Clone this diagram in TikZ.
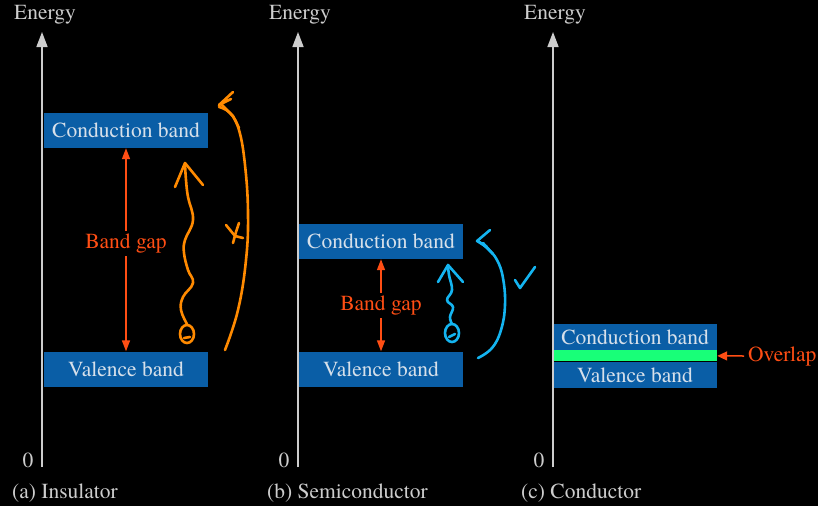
\documentclass[tikz,border=0pt]{standalone}
\usepackage{fontspec}
\setmainfont{texgyretermes}[Extension=.otf, UprightFont=*-regular, BoldFont=*-bold, ItalicFont=*-italic, BoldItalicFont=*-bolditalic]
\usetikzlibrary{positioning,arrows.meta}
\definecolor{bandblue}{RGB}{10,94,166}
\definecolor{bandtext}{RGB}{214,224,234}
\definecolor{axisgray}{RGB}{205,205,205}
\definecolor{gapred}{RGB}{255,78,20}
\definecolor{overlapgreen}{RGB}{24,255,120}
\definecolor{penorange}{RGB}{255,138,0}
\definecolor{pencyan}{RGB}{20,180,240}
\tikzstyle{band}=[rectangle, fill=bandblue, text=bandtext, minimum width=164pt, minimum height=35pt, inner sep=0pt]
\tikzstyle{thinband}=[band, minimum height=26pt]
\tikzstyle{axisline}=[draw=axisgray, line width=1.5pt, -{Triangle[width=11pt,length=15pt]}]
\tikzstyle{axistext}=[text=axisgray, inner sep=0pt]
\tikzstyle{gaparrow}=[draw=gapred, line width=1.5pt, {Triangle[width=8pt,length=11pt]}-{Triangle[width=8pt,length=11pt]}]
\tikzstyle{gaptext}=[text=gapred, fill=black, inner sep=3pt]
\tikzstyle{ink}=[line width=2.6pt, line cap=round, line join=round]

\begin{document}
\begin{tikzpicture}[x=1pt, y=-1pt, font=\fontsize{21.5}{25}\selectfont]
        \fill[black] (0,0) rectangle (818,506);
        \useasboundingbox (0,0) rectangle (818,506);

        % (a) Insulator
        \node (energy_a) [axistext] at (45,15) {Energy};
        \coordinate (axis_a0) at (42,467);
        \coordinate (axis_a1) at (42,32);
        \node (zero_a) [axistext] at (28,460) {0};
        \node (cb_a) [band] at (126,130.5) {Conduction band};
        \node (vb_a) [band] at (126,369) {Valence band};
        \node (cap_a) [axistext, anchor=west] at (12,493) {(a) Insulator};

        % (b) Semiconductor
        \node (energy_b) [axistext] at (300,15) {Energy};
        \coordinate (axis_b0) at (298,467);
        \coordinate (axis_b1) at (298,32);
        \node (zero_b) [axistext] at (284,460) {0};
        \node (cb_b) [band] at (381,241.5) {Conduction band};
        \node (vb_b) [band] at (381,369) {Valence band};
        \node (cap_b) [axistext, anchor=west] at (267,493) {(b) Semiconductor};

        % (c) Conductor
        \node (energy_c) [axistext] at (555,15) {Energy};
        \coordinate (axis_c0) at (553,467);
        \coordinate (axis_c1) at (553,32);
        \node (zero_c) [axistext] at (539,460) {0};
        \node (cb_c) [thinband] at (635,337) {Conduction band};
        \node (ovl_c) [rectangle, fill=overlapgreen, minimum width=164pt, minimum height=11pt, inner sep=0pt, below=0pt of cb_c] {};
        \node (vb_c) [thinband, below=0pt of ovl_c] {Valence band};
        \node (overlap) [gaptext, fill=none, inner sep=0pt, anchor=west] at (748,356) {Overlap};
        \coordinate (ovl_tail) at (744,356);
        \node (cap_c) [axistext, anchor=west] at (521,493) {(c) Conductor};

        %Axes
        \draw[axisline] (axis_a0) -- (axis_a1);
        \draw[axisline] (axis_b0) -- (axis_b1);
        \draw[axisline] (axis_c0) -- (axis_c1);

        %Gap arrows
        \draw[gaparrow] (cb_a) -- node[gaptext, pos=0.47] {Band gap} (vb_a);
        \draw[gaparrow] (cb_b) -- node[gaptext] {Band gap} (vb_b);
        \draw[draw=gapred, line width=1.5pt, -{Triangle[width=9pt,length=10pt]}] (ovl_tail) -- (ovl_c.east);

        %Pen notes, insulator
        \draw[ink, penorange] plot[smooth, tension=0.7] coordinates {(187,324) (181,310) (183,297) (193,283) (188,270) (184,253) (185,240) (193,220) (188,197) (186,180) (185,164)};
        \draw[ink, penorange] (175,187) -- (185,163) -- (203,185);
        \draw[ink, penorange] (187,334) ellipse (7pt and 9pt);
        \draw[ink, penorange] (184,338) -- (190,337);
        \draw[ink, penorange] plot[smooth, tension=0.7] coordinates {(225,350) (238,310) (246,260) (248,213) (245,165) (239,130) (230,113) (219,107)};
        \draw[ink, penorange] (233,92) -- (219,105) -- (231,99);
        \draw[ink, penorange] (221,104) -- (233,116) -- (239,128);
        \draw[ink, penorange] (226,225) -- (235,236) -- (243,238);
        \draw[ink, penorange] plot[smooth] coordinates {(239,223) (236,232) (233,243)};

        %Pen notes, semiconductor
        \draw[ink, pencyan] plot[smooth, tension=0.7] coordinates {(452,324) (450,317) (453,307) (447,300) (452,290) (449,275) (448,265)};
        \draw[ink, pencyan] (438,282) -- (448,265) -- (463,282);
        \draw[ink, pencyan] (452,333) ellipse (7pt and 9pt);
        \draw[ink, pencyan] (449,337) -- (455,334);
        \draw[ink, pencyan] plot[smooth, tension=0.7] coordinates {(478,358) (492,348) (501,330) (505,305) (503,278) (497,260) (488,249) (478,241)};
        \draw[ink, pencyan] (490,230) -- (477,241) -- (487,247);
        \draw[ink, pencyan] (483,243) -- (493,254);
        \draw[ink, pencyan] (515,280) -- (520,288) -- (535,267);
\end{tikzpicture}
\end{document}
